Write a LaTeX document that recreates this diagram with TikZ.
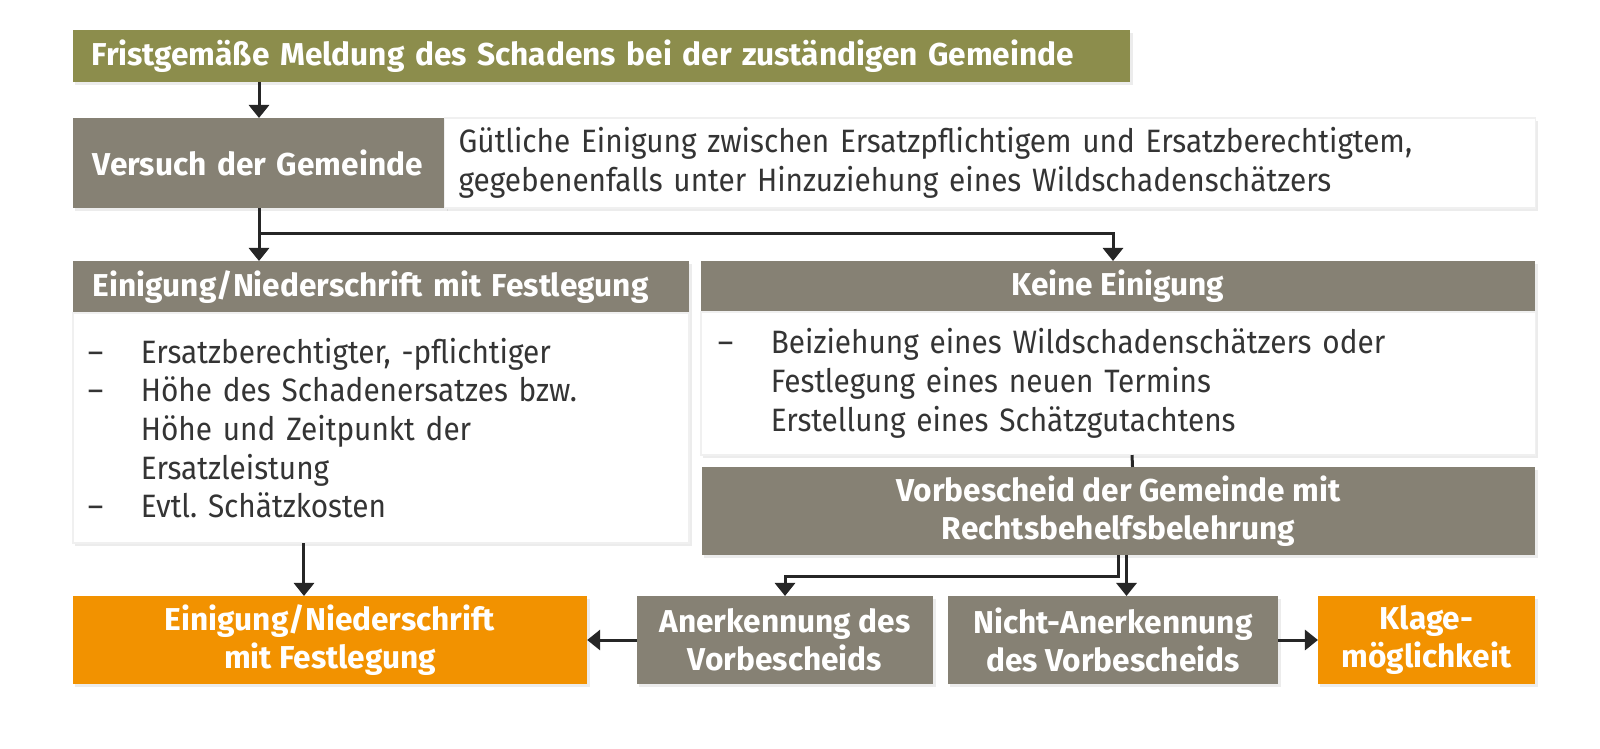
\documentclass[tikz,border=0pt]{standalone}
\usepackage{fontspec}
\setmainfont{Fira Sans}
\newfontfamily\bodyfont{Fira Sans}[FakeStretch=0.92]
\usetikzlibrary{arrows.meta,shadows}

\definecolor{olivebox}{RGB}{140,141,76}
\definecolor{greybox}{RGB}{134,129,116}
\definecolor{orangebox}{RGB}{242,146,0}
\definecolor{bodytext}{RGB}{52,52,52}

\newcommand{\strich}{\makebox[0.53cm][l]{–}}
\newcommand{\einzug}{\hspace*{0.53cm}}
\frenchspacing

\begin{document}
\begin{tikzpicture}[x=0.01cm, y=-0.01cm,
    box/.style={inner sep=0pt, outer sep=0pt,
        drop shadow={shadow xshift=0.025cm, shadow yshift=-0.03cm, opacity=0.15}},
    head/.style={box, text=white, font=\bfseries\fontsize{9}{10.8}\selectfont},
    note/.style={box, fill=white, draw=black!6, line width=0.015cm, text=bodytext,
        align=left, font=\bodyfont\fontsize{9.2}{11}\selectfont},
    arr/.style={-{Triangle[width=0.2cm,length=0.13cm]}, line width=0.03cm, draw=black!85},
    line/.style={line width=0.03cm, draw=black!85}]
        \fill[white] (0,0) rectangle (1600,748);
        \useasboundingbox (0,0) rectangle (1600,748);

        % Meldung und Versuch der Gemeinde
        \node[head, fill=olivebox, minimum height=0.52cm, text width=10.19cm,
            inner xsep=0.19cm, align=left] (meld) at (601.5,56)
            {Fristgemäße Meldung des Schadens bei der zuständigen Gemeinde};
        \node[head, fill=greybox, minimum height=0.90cm, text width=3.32cm,
            inner xsep=0.2cm, align=left] (versuch) at (259,163)
            {Versuch der Gemeinde};
        \node[note, minimum height=0.90cm, text width=10.62cm,
            inner xsep=0.14cm] (guetlich) at (990,163)
            {Gütliche Einigung zwischen Ersatzpflichtigem und Ersatzberechtigtem,\\
             gegebenenfalls unter Hinzuziehung eines Wildschadenschätzers};

        % linke Spalte
        \node[head, fill=greybox, minimum height=0.52cm, text width=5.76cm,
            inner xsep=0.2cm, align=left] (einig) at (381,287)
            {Einigung/Niederschrift mit Festlegung};
        \node[note, minimum height=2.30cm, text width=5.86cm,
            inner xsep=0.15cm] (einigtxt) at (381,428)
            {\strich Ersatzberechtigter, -pflichtiger\\
             \strich Höhe des Schadenersatzes bzw.\\
             \einzug Höhe und Zeitpunkt der\\
             \einzug Ersatzleistung\\
             \strich Evtl. Schätzkosten};

        % rechte Spalte
        \node[head, fill=greybox, minimum width=8.34cm, minimum height=0.51cm,
            align=center] (keine) at (1118,286.5) {Keine Einigung};
        \node[note, minimum height=1.43cm, text width=8.0cm,
            inner xsep=0.17cm] (keinetxt) at (1118,383.5)
            {\strich Beiziehung eines Wildschadenschätzers oder\\
             \einzug Festlegung eines neuen Termins\\
             \einzug Erstellung eines Schätzgutachtens};
        \node[head, fill=greybox, minimum width=8.33cm, minimum height=0.88cm,
            align=center] (vorb) at (1118.5,511)
            {Vorbescheid der Gemeinde mit\\ Rechtsbehelfsbelehrung};

        % untere Reihe
        \node[head, fill=orangebox, minimum width=5.14cm, minimum height=0.88cm,
            align=center] (orleft) at (330,640)
            {Einigung/Niederschrift\\ mit Festlegung};
        \node[head, fill=greybox, minimum width=2.96cm, minimum height=0.88cm,
            align=center] (anerk) at (785,640)
            {Anerkennung des\\ Vorbescheids};
        \node[head, fill=greybox, minimum width=3.30cm, minimum height=0.88cm,
            align=center] (nicht) at (1113,640)
            {Nicht-Anerkennung\\ des Vorbescheids};
        \node[head, fill=orangebox, minimum width=2.17cm, minimum height=0.88cm,
            align=center] (klage) at (1426.5,640)
            {Klage-\\ möglichkeit};

        % Verbindungen
        \coordinate (gabel) at (259,233);
        \coordinate (knick) at (1118.5,576);
        \draw[arr] (versuch.north |- meld.south) -- (versuch.north);
        \draw[arr] (versuch.south) -- (versuch.south |- einig.north);
        \draw[arr] (gabel) -| ([xshift=-0.05cm]keine.north);
        \draw[line] ([xshift=0.14cm]keinetxt.south) -- ([xshift=0.14cm]vorb.north);
        \draw[arr] (vorb.south) -- (knick) -| (anerk.north);
        \draw[arr] ([xshift=0.08cm]vorb.south) -- ([xshift=0.08cm]vorb.south |- nicht.north);
        \draw[arr] ([xshift=-0.26cm]orleft.north |- einigtxt.south) -- ([xshift=-0.26cm]orleft.north);
        \draw[arr] (anerk) -- (orleft);
        \draw[arr] (nicht) -- (klage);
\end{tikzpicture}
\end{document}
